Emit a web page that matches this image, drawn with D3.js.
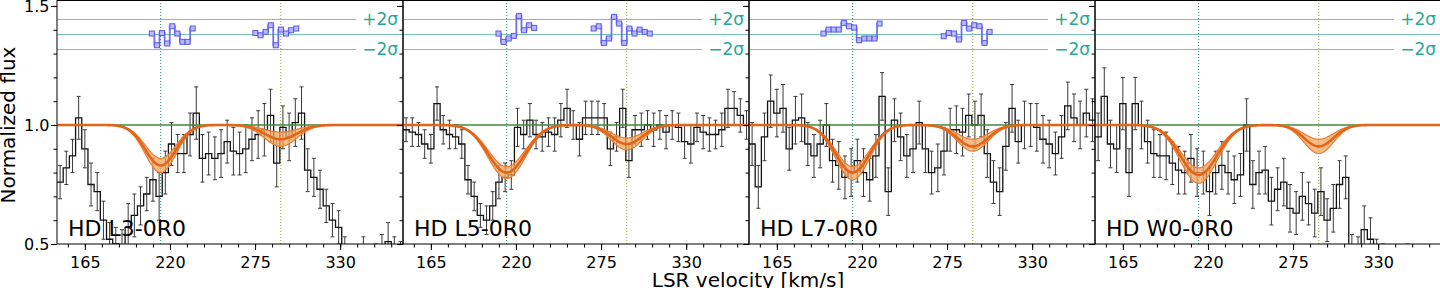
<!DOCTYPE html>
<html>
<head>
<meta charset="utf-8">
<script src="https://cdn.jsdelivr.net/npm/d3@7/dist/d3.min.js"></script>
<style>
  body { margin: 0; background: #fff; }
  svg { display: block; font-family: "DejaVu Sans", sans-serif; }
</style>
</head>
<body>
<svg id="chart" width="1440" height="288"></svg>
<script>
// ---- data ----
var panelNames = ["HD L3-0R0", "HD L5-0R0", "HD L7-0R0", "HD W0-0R0"];
var velStart = 147, binWidth = 4;   // km/s, left edge of first bin

var flux1 = [0.76,0.82,0.87,1.03,0.90,0.75,0.72,0.60,0.52,0.50,0.48,0.57,0.62,0.66,0.71,0.77,0.70,0.80,0.92,0.88,
             0.88,0.96,1.05,0.86,0.88,0.86,0.88,0.93,0.89,0.88,0.90,0.94,0.96,0.98,1.04,0.84,0.99,0.95,1.01,1.05,
             0.81,0.78,0.73,0.66,0.60,0.57,0.45,0.42,0.40,0.43,0.40,0.42,0.45,0.51,0.46,0.44];
var err1  = [0.07,0.07,0.07,0.09,0.08,0.09,0.08,0.08,0.07,0.07,0.08,0.10,0.09,0.08,0.07,0.09,0.10,0.09,0.09,0.08,
             0.08,0.09,0.11,0.10,0.09,0.09,0.10,0.09,0.10,0.09,0.10,0.09,0.10,0.11,0.11,0.10,0.09,0.10,0.10,0.11,
             0.09,0.08,0.08,0.07,0.07,0.07,0.08,0.07,0.08,0.10,0.07,0.08,0.09,0.08,0.07,0.07];

var flux2 = [0.98,0.97,0.96,0.92,0.90,1.09,0.98,0.96,0.95,0.92,0.77,0.70,0.62,0.60,0.66,0.76,0.78,0.79,0.99,0.96,
             1.02,0.96,0.95,0.97,0.96,1.02,1.07,1.00,0.94,1.03,1.03,1.03,1.03,0.90,0.95,1.07,0.85,0.98,0.98,1.00,
             0.98,1.00,0.97,1.00,0.99,0.93,0.92,0.99,0.97,0.96,0.96,0.98,1.07,1.07,1.04,1.00];
var err2  = [0.05,0.06,0.05,0.06,0.06,0.07,0.06,0.06,0.05,0.06,0.06,0.06,0.05,0.06,0.06,0.07,0.06,0.06,0.08,0.06,
             0.07,0.06,0.06,0.06,0.07,0.07,0.08,0.06,0.07,0.07,0.07,0.07,0.06,0.07,0.06,0.08,0.07,0.06,0.07,0.06,
             0.07,0.06,0.07,0.06,0.06,0.07,0.08,0.06,0.07,0.07,0.06,0.07,0.08,0.07,0.07,0.06];

var flux3 = [0.92,0.74,0.95,1.10,1.05,1.07,0.90,1.02,1.03,0.92,0.87,0.92,1.00,0.85,0.83,0.78,0.80,0.85,0.80,0.77,
             0.87,1.12,0.72,1.02,0.95,0.87,0.90,1.01,0.90,0.80,0.82,0.89,0.98,0.98,0.97,1.04,1.00,1.04,0.88,0.76,
             0.72,0.91,1.07,0.93,1.00,1.00,0.99,0.94,0.92,0.88,0.95,1.08,1.03,1.00,1.05,1.02];
var err3  = [0.09,0.09,0.10,0.11,0.10,0.10,0.09,0.10,0.10,0.09,0.09,0.10,0.09,0.09,0.10,0.09,0.10,0.09,0.10,0.09,
             0.09,0.10,0.10,0.09,0.10,0.09,0.10,0.09,0.10,0.09,0.10,0.10,0.09,0.10,0.10,0.09,0.10,0.09,0.10,0.09,
             0.10,0.10,0.10,0.09,0.10,0.09,0.10,0.10,0.10,0.09,0.09,0.10,0.10,0.10,0.10,0.09];

var flux4 = [0.95,1.12,0.92,0.90,1.09,0.80,1.09,1.00,0.93,0.88,0.87,0.87,0.84,0.81,0.80,0.86,0.80,0.80,0.72,0.80,
             0.83,0.80,0.77,0.79,1.00,0.75,0.80,0.81,0.68,0.73,0.76,0.65,0.63,0.70,0.67,0.63,0.72,0.60,0.65,0.75,
             0.78,0.45,0.44,0.56,0.52,0.47,0.42,0.40,0.38,0.40,0.42,0.40,0.38,0.40,0.41,0.39];
var err4  = [0.10,0.12,0.10,0.10,0.11,0.10,0.11,0.10,0.09,0.10,0.09,0.10,0.09,0.10,0.09,0.10,0.10,0.09,0.10,0.09,
             0.10,0.09,0.10,0.09,0.11,0.10,0.09,0.10,0.10,0.09,0.10,0.10,0.09,0.10,0.09,0.10,0.10,0.09,0.10,0.10,
             0.09,0.09,0.09,0.10,0.09,0.05,0.08,0.08,0.08,0.08,0.08,0.08,0.08,0.08,0.08,0.08];

// absorption components (velocity, km/s) and per-panel fit
var compVel = [214, 291.6];
var depthA = [0.17, 0.20, 0.20, 0.21], depthALo = [0.14, 0.175, 0.175, 0.18], depthAHi = [0.20, 0.225, 0.23, 0.245];
var depthB = [0.06, 0.08, 0.09, 0.09], depthBLo = [0.03, 0.055, 0.06, 0.06], depthBHi = [0.09, 0.105, 0.11, 0.12];
var widthA = [10, 12, 11, 12], widthB = [10.5, 10, 10, 9.5];

// residuals in sigma units, start velocity for each cluster
var resStep = 3.3;
var resStart = [[208.3, 275.2], [208.7, 270.2], [195.1, 272.8], []];
var res1a = [0.13,-1.43,0.2,-1.2,1.1,0.13,-0.98,-0.98,0.8];
var res1b = [0.2,-0.1,0.35,1.24,-1.43,0.66,0.13,0.57,0.8];
var res2a = [0.13,-0.99,-0.53,-0.19,2.48,0.57,1.24,0.88];
var res2b = [0.8,1.1,-1.12,-0.53,2.35,1.46,-1.12,0.8,0.13,0.66,0.35,0.13];
var res3a = [0.13,0.66,0.66,0.66,1.55,1.1,0.93,-0.76,-0.53,-0.53,-0.53,1.46];
var res3b = [-0.23,0.2,0.13,-0.66,1.55,0.8,1.24,1.1,-1.12,0.35];
var resLevel = 1.38, sigmaFlux = 0.0315;

var xMajor = [165, 220, 275, 330];
var yMajor = [0.5, 1.0, 1.5];

var fluxes = [flux1, flux2, flux3, flux4];
var errs = [err1, err2, err3, err4];
var resids = [[res1a, res1b], [res2a, res2b], [res3a, res3b], []];

// ---- layout ----
var svg = d3.select("#chart");
var left = 57, panelW = 346, plotTop = 0, plotBottom = 244;

var x = d3.scaleLinear().domain([147, 370.6]).range([0, panelW]);
var y = d3.scaleLinear().domain([0.5, 1.525]).range([plotBottom, plotTop]);

var xMinor = d3.range(143, 371, 11).filter(function(d) { return d >= 147; });
var yMinor = d3.range(6, 16).map(function(d) { return d / 10; });

var orange = "#e2651b", bandFill = "#f3a660", bandEdge = "#ea7c2c";
var teal = "#3fae9c", tealText = "#2aa896";

function gauss(v, c, s) { return Math.exp(-(v - c) * (v - c) / (2 * s * s)); }

svg.append("defs").append("clipPath").attr("id", "clip")
  .append("rect").attr("x", 0).attr("y", plotTop).attr("width", panelW).attr("height", plotBottom - plotTop);

var modelV = d3.range(147, 371.5, 0.5);

panelNames.forEach(function(name, p) {
  var g = svg.append("g").attr("transform", "translate(" + (left + p * panelW) + ",0)");
  var plot = g.append("g").attr("clip-path", "url(#clip)");

  // sigma guide lines for residuals
  [2, -2].forEach(function(s) {
    plot.append("line")
      .attr("x1", 0).attr("x2", 299)
      .attr("y1", y(resLevel + s * sigmaFlux)).attr("y2", y(resLevel + s * sigmaFlux))
      .style("stroke", teal).style("stroke-width", 0.9).style("opacity", 0.8);
  });
  plot.append("line")
    .attr("x1", 0).attr("x2", panelW)
    .attr("y1", y(resLevel)).attr("y2", y(resLevel))
    .style("stroke", teal).style("stroke-width", 0.9).style("opacity", 0.8);

  g.append("text").attr("x", panelW - 5).attr("y", y(resLevel + 2 * sigmaFlux)).attr("dy", "0.35em")
    .attr("text-anchor", "end").style("font-size", "17px").style("fill", tealText).text("+2\u03c3");
  g.append("text").attr("x", panelW - 5).attr("y", y(resLevel - 2 * sigmaFlux)).attr("dy", "0.35em")
    .attr("text-anchor", "end").style("font-size", "17px").style("fill", tealText).text("\u22122\u03c3");

  // component markers
  plot.append("line").attr("x1", x(compVel[0])).attr("x2", x(compVel[0])).attr("y1", plotTop).attr("y2", plotBottom)
    .style("stroke", "#2a8a7c").style("stroke-width", 1).style("stroke-dasharray", "1,2");
  plot.append("line").attr("x1", x(compVel[1])).attr("x2", x(compVel[1])).attr("y1", plotTop).attr("y2", plotBottom)
    .style("stroke", "#9c9c3a").style("stroke-width", 1).style("stroke-dasharray", "1,2");

  // data: steps + error bars
  var f = fluxes[p], e = errs[p];
  var bins = f.map(function(d, i) {
    return { lo: velStart + i * binWidth, mid: velStart + (i + 0.5) * binWidth, f: d, e: e[i] };
  });
  var stepPts = bins.map(function(b) { return [b.lo, b.f]; });
  stepPts.push([velStart + bins.length * binWidth, f[f.length - 1]]);

  plot.selectAll(".err").data(bins).enter().append("line")
    .attr("x1", function(d) { return x(d.mid); }).attr("x2", function(d) { return x(d.mid); })
    .attr("y1", function(d) { return y(d.f - d.e); }).attr("y2", function(d) { return y(d.f + d.e); })
    .style("stroke", "#3a3a3a").style("stroke-width", 1);
  [-1, 1].forEach(function(sgn) {
    plot.selectAll(".cap").data(bins).enter().append("line")
      .attr("x1", function(d) { return x(d.mid) - 2; }).attr("x2", function(d) { return x(d.mid) + 2; })
      .attr("y1", function(d) { return y(d.f + sgn * d.e); }).attr("y2", function(d) { return y(d.f + sgn * d.e); })
      .style("stroke", "#3a3a3a").style("stroke-width", 1);
  });

  plot.append("path").datum(stepPts)
    .attr("d", d3.line().x(function(d) { return x(d[0]); }).y(function(d) { return y(d[1]); }).curve(d3.curveStepAfter))
    .style("fill", "none").style("stroke", "#111").style("stroke-width", 1.3);

  // continuum
  plot.append("line").attr("x1", 0).attr("x2", panelW).attr("y1", y(1)).attr("y2", y(1))
    .style("stroke", "#3f8a3a").style("stroke-width", 1.5);

  // model + band
  function model(dA, dB) {
    return modelV.map(function(v) {
      return [v, 1 - dA * gauss(v, compVel[0], widthA[p]) - dB * gauss(v, compVel[1], widthB[p])];
    });
  }
  var lo = model(depthAHi[p], depthBHi[p]), hi = model(depthALo[p], depthBLo[p]);
  var area = d3.area().x(function(d, i) { return x(lo[i][0]); })
    .y0(function(d, i) { return y(lo[i][1]); }).y1(function(d, i) { return y(hi[i][1]); });
  plot.append("path").datum(lo).attr("d", area).style("fill", bandFill).style("opacity", 0.75);

  var mline = d3.line().x(function(d) { return x(d[0]); }).y(function(d) { return y(d[1]); });
  [lo, hi].forEach(function(c) {
    plot.append("path").datum(c).attr("d", mline)
      .style("fill", "none").style("stroke", bandEdge).style("stroke-width", 1.2);
  });
  plot.append("path").datum(model(depthA[p], depthB[p])).attr("d", mline)
    .style("fill", "none").style("stroke", orange).style("stroke-width", 2.6);

  // residuals
  resids[p].forEach(function(r, j) {
    var pts = r.map(function(d, i) { return [resStart[p][j] + i * resStep, resLevel + d * sigmaFlux]; });
    plot.append("path").datum(pts)
      .attr("d", d3.line().x(function(d) { return x(d[0]); }).y(function(d) { return y(d[1]); }).curve(d3.curveStep))
      .style("fill", "none").style("stroke", "#6262ee").style("stroke-width", 1.8).style("opacity", 0.9);
    plot.selectAll(".rm" + j).data(pts).enter().append("rect")
      .attr("x", function(d) { return x(d[0]) - 2.5; }).attr("y", function(d) { return y(d[1]) - 2.5; })
      .attr("width", 5).attr("height", 5)
      .style("fill", "#b9b9fb").style("stroke", "#5a5aea").style("stroke-width", 1);
  });

  // panel label
  g.append("text").attr("x", 11).attr("y", 235.5).style("font-size", "22px").style("fill", "#000").text(name);

  // frame
  g.append("rect").attr("x", 0).attr("y", plotTop + 0.5).attr("width", panelW).attr("height", plotBottom - plotTop - 0.5)
    .style("fill", "none").style("stroke", "#000").style("stroke-width", 1);

  // axes
  var xAxis = d3.axisBottom(x).tickValues(xMajor).tickSize(6).tickPadding(7).tickFormat(d3.format("d"));
  var xAxisMinor = d3.axisBottom(x).tickValues(xMinor).tickSize(3.5).tickFormat("");
  var gx = g.append("g").attr("transform", "translate(0," + plotBottom + ")").call(xAxis);
  var gxm = g.append("g").attr("transform", "translate(0," + plotBottom + ")").call(xAxisMinor);
  var yAxis = d3.axisLeft(y).tickValues(yMajor).tickSize(6).tickPadding(1.5)
    .tickFormat(p === 0 ? d3.format(".1f") : "");
  var yAxisMinor = d3.axisLeft(y).tickValues(yMinor).tickSize(3.5).tickFormat("");
  var gy = g.append("g").call(yAxis);
  var gym = g.append("g").call(yAxisMinor);
  [gx, gxm, gy, gym].forEach(function(a) {
    a.select(".domain").remove();
    a.selectAll("text").style("font-size", "16px").style("fill", "#000").style("font-family", "DejaVu Sans");
    a.selectAll("line").style("stroke", "#000");
  });
});

svg.append("text").attr("transform", "translate(15,125) rotate(-90)").attr("text-anchor", "middle")
  .style("font-size", "20px").text("Normalized flux");
svg.append("text").attr("x", 748).attr("y", 287).attr("text-anchor", "middle")
  .style("font-size", "20px").text("LSR velocity [km/s]");
</script>
</body>
</html>
